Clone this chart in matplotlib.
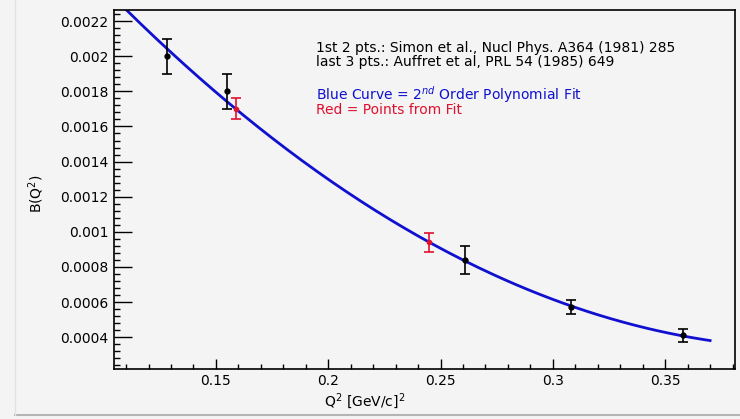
import matplotlib.pyplot as plt
import numpy as np
from matplotlib.ticker import MultipleLocator, FuncFormatter

plt.rcParams['font.family'] = ['DejaVu Sans']

# measured points (1st 2: Simon et al., last 3: Auffret et al.)
q2 = [0.128, 0.155, 0.261, 0.308, 0.358]
b = [0.00200, 0.00180, 0.00084, 0.00057, 0.00041]
b_err = [0.00010, 0.00010, 0.00008, 0.00004, 0.000035]

# points read from the fit
q2_fit = [0.159, 0.245]
b_fit = [0.00170, 0.00094]
b_fit_err = [0.00006, 0.000055]

# 2nd order polynomial fit to the measured points
coef = np.polyfit(q2, b, 2, w=1 / np.array(b_err))
xc = np.linspace(0.11, 0.37, 200)
yc = np.polyval(coef, xc)

fig = plt.figure(figsize=(7.4, 4.19), dpi=100, facecolor='#f4f4f4')
ax = fig.add_axes([0.154, 0.119, 0.839, 0.857], facecolor='#f4f4f4')

# canvas border lines
fig.add_artist(plt.Line2D([15 / 740, 1], [1 - 415 / 419] * 2, color='#b4b4b4', lw=1.5))
fig.add_artist(plt.Line2D([15 / 740] * 2, [1 - 415 / 419, 1], color='#e2e2e2', lw=1))

ax.plot(xc, yc, color='#1010d0', lw=2.0, zorder=2)
ax.errorbar(q2, b, yerr=b_err, fmt='o', color='black', ms=3.5,
            capsize=3.5, elinewidth=1.2, capthick=1.2, zorder=3)
ax.errorbar(q2_fit, b_fit, yerr=b_fit_err, fmt='o', color='#e01030', ms=3,
            capsize=3.5, elinewidth=1.2, capthick=1.2, zorder=3)

ax.set_xlim(0.1046, 0.381)
ax.set_ylim(0.000218, 0.002263)

ax.xaxis.set_major_locator(MultipleLocator(0.05))
ax.xaxis.set_minor_locator(MultipleLocator(0.01))
ax.yaxis.set_major_locator(MultipleLocator(0.0002))
ax.yaxis.set_minor_locator(MultipleLocator(0.00004))
ax.xaxis.set_major_formatter(FuncFormatter(lambda v, p: f'{v:.2f}'.rstrip('0')))
ax.yaxis.set_major_formatter(FuncFormatter(lambda v, p: f'{v:.4f}'.rstrip('0')))

ax.tick_params(which='both', direction='in', top=False, right=False,
               labelsize=10, color='black', width=1)
ax.tick_params(axis='x', which='major', length=7)
ax.tick_params(axis='x', which='minor', length=3.3)
ax.tick_params(axis='y', which='major', length=13)
ax.tick_params(axis='y', which='minor', length=4.5)
ax.tick_params(axis='y', pad=4)
for s in ax.spines.values():
    s.set_linewidth(1.2)

ax.set_xlabel(r'Q$^{2}$ [GeV/c]$^{2}$', fontsize=10)
ax.xaxis.set_label_coords(0.404, -0.062)
ax.set_ylabel(r'B(Q$^{2}$)', fontsize=10)
ax.yaxis.set_label_coords(-0.11, 0.49)

tx = 0.1945
fs = 10
ax.text(tx, 0.002049, '1st 2 pts.: Simon et al., Nucl Phys. A364 (1981) 285',
        fontsize=fs, va='center')
ax.text(tx, 0.001969, 'last 3 pts.: Auffret et al, PRL 54 (1985) 649',
        fontsize=fs, va='center')
ax.text(tx, 0.001782, r'Blue Curve = 2$^{nd}$ Order Polynomial Fit',
        fontsize=fs, va='center', color='#1010d0')
ax.text(tx, 0.001693, 'Red = Points from Fit',
        fontsize=fs, va='center', color='#e01030')

fig.savefig('out.png', dpi=100, facecolor=fig.get_facecolor())
